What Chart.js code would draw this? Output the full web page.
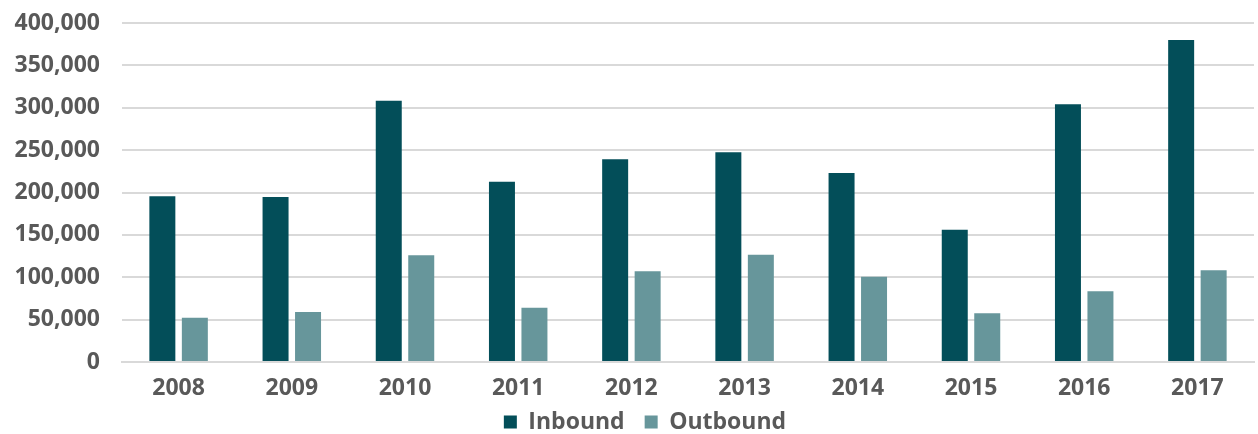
<!DOCTYPE html>
<html>
<head>
<meta charset="utf-8">
<script src="https://cdn.jsdelivr.net/npm/chart.js@4.4.1/dist/chart.umd.min.js"></script>
<style>
  html, body { margin: 0; padding: 0; background: #ffffff; }
  #wrap { width: 1258px; height: 434px; position: relative; }
</style>
</head>
<body>
<div id="wrap"><canvas id="c"></canvas></div>
<script>
const categories = ['2008','2009','2010','2011','2012','2013','2014','2015','2016','2017'];
const inbound  = [195500, 194700, 308300, 212700, 239200, 247400, 223000, 156100, 304100, 380000];
const outbound = [52300, 59000, 125900, 64100, 107000, 126600, 100700, 57400, 83400, 108200];
const seriesNames = ['Inbound', 'Outbound'];
const yTicks = [0, 50000, 100000, 150000, 200000, 250000, 300000, 350000, 400000];

const FONT = "'Open Sans', 'Noto Sans', sans-serif";
const TEXT = '#595959';
const FS = 23;
const LEGEND_PAD = 20;

const legendShift = {
  id: 'legendShift',
  afterLayout(chart) {
    const lg = chart.legend;
    if (!lg) return;
    lg.top = 423 - FS / 2 - LEGEND_PAD - 1;
    lg.bottom = 434;
    lg.height = lg.bottom - lg.top;
    lg.left += 18;
    lg.right += 18;
  }
};

new Chart(document.getElementById('c'), {
  type: 'bar',
  data: {
    labels: categories,
    datasets: [
      { label: seriesNames[0], data: inbound, backgroundColor: '#034E59' },
      { label: seriesNames[1], data: outbound, backgroundColor: '#67969B' }
    ]
  },
  plugins: [legendShift],
  options: {
    responsive: true,
    maintainAspectRatio: false,
    animation: false,
    devicePixelRatio: 1,
    layout: { padding: { top: 23, right: 4, bottom: 0, left: 0 } },
    datasets: { bar: { categoryPercentage: 0.574, barPercentage: 0.8 } },
    plugins: {
      tooltip: { enabled: false },
      legend: {
        position: 'bottom',
        maxHeight: 30,
        labels: {
          color: TEXT,
          font: { family: FONT, size: FS, weight: 'bold' },
          boxWidth: 13,
          boxHeight: 13,
          padding: LEGEND_PAD
        }
      }
    },
    scales: {
      x: {
        grid: { display: false, drawTicks: false },
        border: { display: true, color: '#d9d9d9', width: 2 },
        ticks: { color: TEXT, font: { family: FONT, size: FS, weight: 'bold' }, padding: 13, maxRotation: 0 },
        afterFit: (s) => { s.height = 42; s.paddingLeft = 0; s.paddingRight = 0; }
      },
      y: {
        min: 0,
        max: 400000,
        afterBuildTicks: (s) => { s.ticks = yTicks.map(v => ({ value: v })); },
        grid: { color: '#d9d9d9', lineWidth: 2, drawTicks: false },
        border: { display: false },
        ticks: {
          color: TEXT,
          font: { family: FONT, size: FS, weight: 'bold' },
          padding: 22,
          callback: (v) => Number(v).toLocaleString('en-US')
        },
        afterFit: (s) => { s.width = 122; s.paddingTop = 0; s.paddingBottom = 0; }
      }
    }
  }
});
</script>
</body>
</html>
